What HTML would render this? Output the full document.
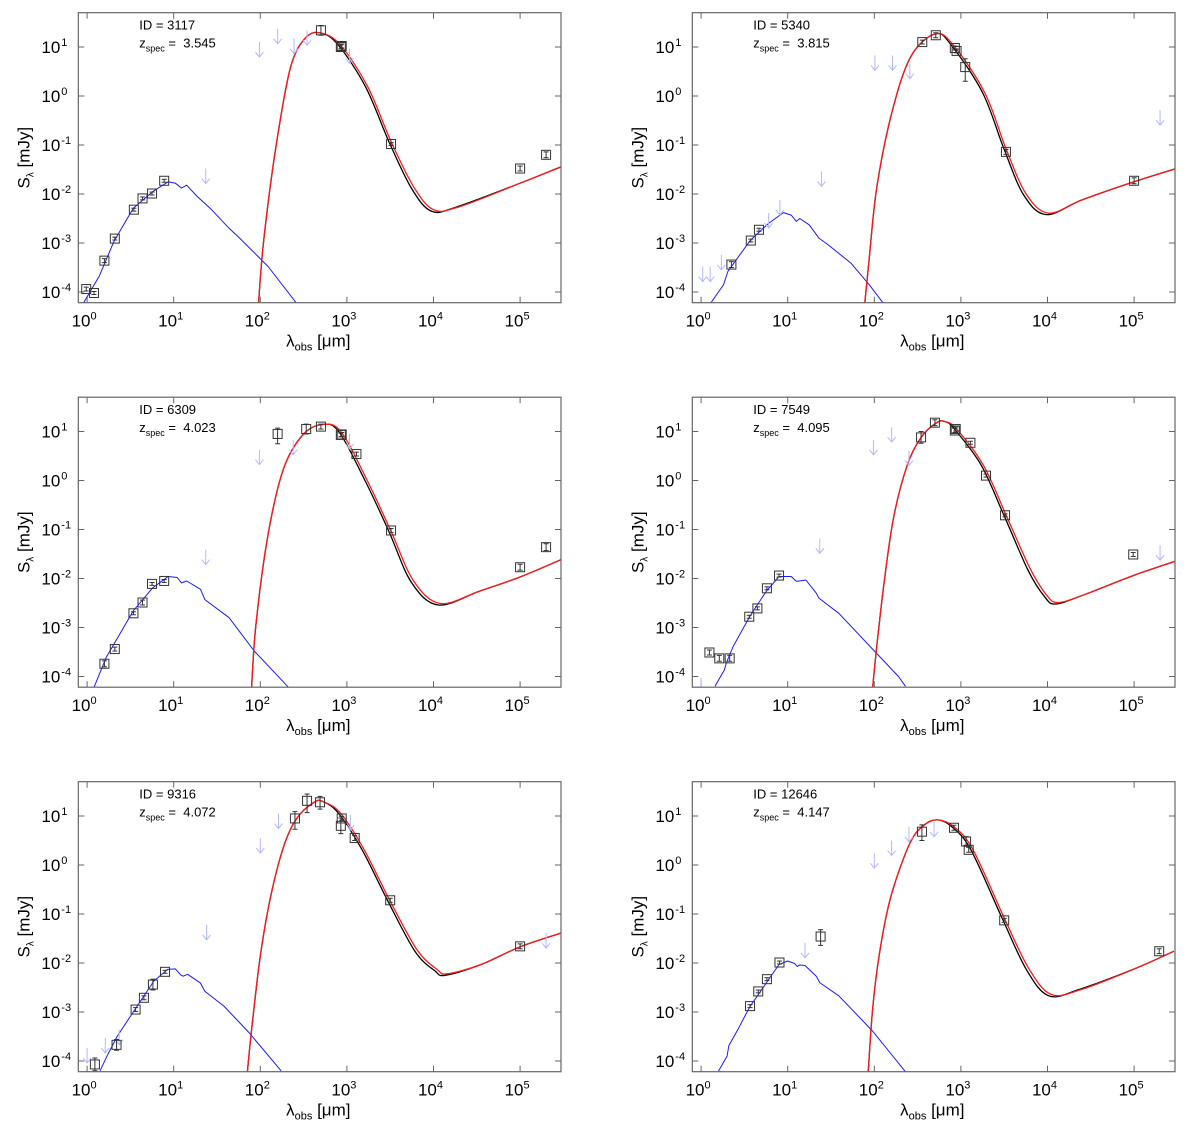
<!DOCTYPE html>
<html><head><meta charset="utf-8"><style>
html,body{margin:0;padding:0;background:#fff;}
svg{display:block;font-family:"Liberation Sans",Arial,sans-serif;}
</style></head><body>
<svg id="fig" width="1200" height="1132" viewBox="0 0 1200 1132" xmlns="http://www.w3.org/2000/svg"></svg>
<script>
// ---- data (log10 lambda [um], log10 S [mJy]) ----
const panelIds = ["3117","5340","6309","7549","9316","12646"];
const panelZ = ["3.545","3.815","4.023","4.095","4.072","4.147"];
const xTickExps = [0,1,2,3,4,5];
const yTickExps = [1,0,-1,-2,-3,-4];

// detections: [logx, logy, errLo, errHi]
const pts1 = [[-0.01,-3.94,0.04,0.04],[0.08,-4.02,0.03,0.03],[0.2,-3.36,0.04,0.04],[0.32,-2.91,0.03,0.03],[0.54,-2.32,0.03,0.03],[0.64,-2.09,0.03,0.03],[0.75,-1.99,0.03,0.03],[0.89,-1.73,0.03,0.03],[2.70,1.34,0.1,0.1],[2.93,1.0,0.04,0.04],[2.94,1.02,0.04,0.04],[3.51,-0.98,0.03,0.03],[5.0,-1.48,0.05,0.05],[5.3,-1.2,0.06,0.06]];
const pts2 = [[0.35,-3.44,0.06,0.06],[0.574,-2.95,0.03,0.03],[0.668,-2.73,0.03,0.03],[2.554,1.10,0.04,0.04],[2.71,1.24,0.05,0.05],[2.93,0.98,0.04,0.04],[2.95,0.92,0.04,0.04],[3.05,0.59,0.29,0.17],[3.52,-1.14,0.05,0.05],[5.0,-1.73,0.06,0.06]];
const pts3 = [[0.2,-3.74,0.06,0.06],[0.32,-3.44,0.04,0.04],[0.535,-2.71,0.03,0.03],[0.64,-2.49,0.05,0.05],[0.75,-2.11,0.03,0.03],[0.89,-2.05,0.03,0.03],[2.2,0.95,0.2,0.12],[2.53,1.05,0.1,0.1],[2.70,1.10,0.05,0.05],[2.93,0.93,0.04,0.04],[2.94,0.94,0.04,0.04],[3.11,0.54,0.04,0.04],[3.51,-1.02,0.04,0.04],[5.0,-1.77,0.06,0.06],[5.3,-1.36,0.07,0.07]];
const pts4 = [[0.096,-3.51,0.05,0.05],[0.21,-3.63,0.06,0.06],[0.33,-3.63,0.06,0.06],[0.556,-2.78,0.03,0.03],[0.65,-2.61,0.03,0.03],[0.76,-2.20,0.03,0.03],[0.9,-1.94,0.03,0.03],[2.54,0.88,0.12,0.12],[2.70,1.18,0.06,0.06],[2.93,1.02,0.04,0.04],[2.94,1.05,0.04,0.04],[3.11,0.77,0.03,0.03],[3.29,0.10,0.03,0.03],[3.51,-0.71,0.03,0.03],[4.99,-1.51,0.04,0.04]];
const pts5 = [[0.09,-4.07,0.13,0.13],[0.34,-3.67,0.11,0.11],[0.56,-2.95,0.04,0.04],[0.656,-2.71,0.04,0.04],[0.76,-2.44,0.11,0.11],[0.9,-2.18,0.03,0.03],[2.40,0.95,0.22,0.14],[2.54,1.31,0.24,0.14],[2.69,1.28,0.14,0.12],[2.94,0.95,0.04,0.04],[2.93,0.80,0.16,0.16],[3.09,0.55,0.05,0.05],[3.50,-0.72,0.04,0.04],[5.0,-1.66,0.05,0.05]];
const pts6 = [[0.565,-2.88,0.03,0.03],[0.66,-2.58,0.03,0.03],[0.76,-2.33,0.03,0.03],[0.905,-1.99,0.03,0.03],[1.38,-1.46,0.18,0.14],[2.55,0.68,0.18,0.14],[2.92,0.76,0.05,0.05],[3.06,0.48,0.1,0.1],[3.09,0.31,0.05,0.05],[3.50,-1.13,0.04,0.04],[5.29,-1.76,0.05,0.05]];

// upper limits: [logx, logy top]
const lim1 = [[1.99,1.10],[2.2,1.37],[2.39,1.17],[2.54,1.34],[3.03,0.97],[1.37,-1.48]];
const lim2 = [[0.018,-3.48],[0.105,-3.48],[0.234,-3.24],[0.78,-2.39],[0.91,-2.12],[1.39,-1.54],[2.007,0.83],[2.21,0.83],[2.41,0.66],[5.30,-0.29]];
const lim3 = [[1.99,0.63],[2.38,0.83],[3.03,0.95],[1.37,-1.41]];
const lim4 = [[0.0,-4.03],[1.37,-1.18],[1.99,0.83],[2.2,1.09],[2.4,0.61],[5.30,-1.32]];
const lim5 = [[0.0,-3.73],[0.21,-3.53],[0.37,-3.36],[1.38,-1.22],[2.0,0.55],[2.21,1.05],[3.04,1.02],[5.30,-1.39]];
const lim6 = [[1.2,-1.59],[2.0,0.24],[2.2,0.50],[2.40,0.78],[2.69,0.88]];

// stellar (blue) model curves
const blue1 = [[-0.04,-4.22],[0.14,-3.68],[0.31,-2.97],[0.534,-2.29],[0.757,-1.95],[0.935,-1.75],[1.02,-1.78],[1.09,-1.88],[1.15,-1.82],[1.27,-2.05],[1.42,-2.29],[1.64,-2.70],[1.75,-2.88],[2.09,-3.48],[2.41,-4.21]];
const blue2 = [[0.113,-4.22],[0.26,-3.85],[0.31,-3.58],[0.57,-2.94],[0.78,-2.60],[0.95,-2.38],[1.04,-2.43],[1.10,-2.56],[1.14,-2.50],[1.25,-2.63],[1.36,-2.90],[1.47,-3.04],[1.73,-3.41],[1.94,-3.85],[2.1,-4.22]];
const blue3 = [[0.08,-4.22],[0.22,-3.61],[0.534,-2.66],[0.757,-2.19],[0.935,-1.96],[1.04,-1.98],[1.09,-2.09],[1.15,-2.05],[1.31,-2.22],[1.36,-2.43],[1.64,-2.80],[1.93,-3.48],[2.32,-4.21]];
const blue4 = [[0.16,-4.2],[0.27,-3.86],[0.29,-3.73],[0.37,-3.39],[0.56,-2.78],[0.75,-2.27],[0.9,-1.96],[1.04,-1.96],[1.1,-2.06],[1.21,-2.03],[1.33,-2.30],[1.36,-2.40],[1.59,-2.71],[1.99,-3.46],[2.28,-4.0],[2.36,-4.2]];
const blue5 = [[0.15,-4.2],[0.23,-3.9],[0.35,-3.49],[0.54,-2.98],[0.77,-2.37],[0.93,-2.13],[1.02,-2.12],[1.08,-2.24],[1.11,-2.27],[1.16,-2.23],[1.31,-2.41],[1.36,-2.58],[1.58,-2.88],[1.87,-3.42],[2.24,-4.2]];
const blue6 = [[0.2,-4.21],[0.30,-3.90],[0.32,-3.69],[0.43,-3.34],[0.56,-2.90],[0.9,-2.03],[1.0,-1.96],[1.08,-2.01],[1.11,-2.07],[1.14,-2.04],[1.2,-2.05],[1.33,-2.27],[1.37,-2.40],[1.59,-2.67],[1.98,-3.39],[2.36,-4.22]];

// dust + radio (red) model curves
const red1 = [[1.98,-4.21],[2.04,-2.93],[2.18,-1.04],[2.35,0.59],[2.53,1.2],[2.71,1.28],[2.93,1.03],[3.24,0.19],[3.51,-0.93],[3.77,-1.85],[4.0,-2.32],[4.3,-2.26],[5.0,-1.78],[5.48,-1.44]];
const red2 = [[1.89,-4.22],[1.94,-3.34],[2.03,-1.85],[2.2,-0.36],[2.42,0.80],[2.71,1.27],[2.93,1.0],[3.28,0.05],[3.52,-1.07],[3.75,-1.99],[4.01,-2.39],[4.40,-2.12],[5.0,-1.75],[5.47,-1.49]];
const red3 = [[1.9,-4.21],[1.95,-2.93],[2.09,-1.10],[2.27,0.25],[2.49,0.93],[2.71,1.14],[2.93,1.0],[3.24,-0.02],[3.51,-1.04],[3.77,-2.05],[4.08,-2.51],[4.53,-2.26],[5.0,-1.97],[5.48,-1.61]];
const red4 = [[1.98,-4.24],[2.03,-3.36],[2.11,-2.13],[2.22,-0.78],[2.38,0.31],[2.54,0.88],[2.72,1.18],[2.82,1.2],[2.95,1.05],[3.26,0.31],[3.53,-0.74],[3.80,-1.80],[3.99,-2.34],[4.12,-2.49],[4.41,-2.34],[4.99,-1.94],[5.47,-1.65]];
const red5 = [[1.85,-4.24],[1.9,-3.36],[2.0,-1.86],[2.12,-0.64],[2.27,0.38],[2.42,0.95],[2.62,1.28],[2.73,1.29],[2.93,1.05],[3.20,0.31],[3.50,-0.74],[3.81,-1.73],[4.04,-2.13],[4.16,-2.22],[4.55,-2.03],[5.0,-1.67],[5.47,-1.39]];
const red6 = [[1.93,-4.22],[1.98,-2.95],[2.06,-1.80],[2.19,-0.65],[2.41,0.44],[2.58,0.82],[2.73,0.92],[2.92,0.78],[3.14,0.31],[3.50,-1.08],[3.78,-2.10],[4.04,-2.64],[4.39,-2.54],[4.99,-2.13],[5.46,-1.76]];

const allPts = [pts1,pts2,pts3,pts4,pts5,pts6];
const allLim = [lim1,lim2,lim3,lim4,lim5,lim6];
const allBlue = [blue1,blue2,blue3,blue4,blue5,blue6];
const allRed = [red1,red2,red3,red4,red5,red6];

// ---- drawing ----
const NS = "http://www.w3.org/2000/svg";
const svg = document.getElementById("fig");
function mk(tag, attrs, parent){
  const e = document.createElementNS(NS, tag);
  for (const k in attrs) e.setAttribute(k, attrs[k]);
  (parent||svg).appendChild(e);
  return e;
}
const PW = 482.7, PH = 290;
function smoothPath(pp){
  let d = "M" + pp[0][0].toFixed(1) + "," + pp[0][1].toFixed(1);
  for (let i=0;i<pp.length-1;i++){
    const p0 = pp[Math.max(0,i-1)], p1 = pp[i], p2 = pp[i+1], p3 = pp[Math.min(pp.length-1,i+2)];
    const c1x = p1[0]+(p2[0]-p0[0])/6, c1y = p1[1]+(p2[1]-p0[1])/6;
    const c2x = p2[0]-(p3[0]-p1[0])/6, c2y = p2[1]-(p3[1]-p1[1])/6;
    d += " C"+c1x.toFixed(1)+","+c1y.toFixed(1)+" "+c2x.toFixed(1)+","+c2y.toFixed(1)+" "+p2[0].toFixed(1)+","+p2[1].toFixed(1);
  }
  return d;
}
function linePath(pp){
  return "M" + pp.map(q=>q[0].toFixed(1)+","+q[1].toFixed(1)).join(" L");
}

for (let p=0;p<6;p++){
  const col = p%2, row = Math.floor(p/2);
  const X0 = 78.3 + col*614, Y0 = 12.7 + row*384.5;
  const xs = v => X0 + 8.8 + v*86.6;
  const ys = v => Y0 + 34.3 + (1 - v)*49;
  const g = mk("g", {});
  
  

  const cid = "clip"+p;
  const cp = mk("clipPath", {id:cid}, g);
  mk("rect", {x:X0, y:Y0, width:PW, height:PH}, cp);

  const tg = mk("g", {stroke:"#666", "stroke-width":1}, g);
  
  
  xTickExps.forEach(e => {
    const x = xs(e);
    mk("line", {x1:x, y1:Y0+PH, x2:x, y2:Y0+PH-6}, tg);
    mk("line", {x1:x, y1:Y0, x2:x, y2:Y0+6}, tg);
    const t = mk("text", {x:x-3, y:Y0+PH+24, "text-anchor":"middle", "font-size":17, fill:"#000"}, g);
    
    
    t.innerHTML = '10<tspan dy="-7" font-size="11">'+e+'</tspan>';
  });
  yTickExps.forEach(e => {
    const y = ys(e);
    mk("line", {x1:X0, y1:y, x2:X0+6, y2:y}, tg);
    mk("line", {x1:X0+PW, y1:y, x2:X0+PW-6, y2:y}, tg);
    const t = mk("text", {x:X0-18, y:y+6, "text-anchor":"end", "font-size":17, fill:"#000"}, g);
    
    
    t.textContent = "10";
    const s = mk("text", {x:X0-17, y:y-1, "text-anchor":"start", "font-size":11, fill:"#000"}, g);
    
    
    s.textContent = String(e);
  });

  const pg = mk("g", {"clip-path":"url(#"+cid+")"}, g);
  const bl = mk("path", {d:linePath(allBlue[p].map(q=>[xs(q[0]),ys(q[1])])), fill:"none", stroke:"#1a1aff", "stroke-width":1, "stroke-linejoin":"round"}, pg);
  
  
  const blk = allRed[p].map(q=>[xs(q[0] - ((q[0]>2.85 && q[0]<4.4)?0.025:0)), ys(q[1] - ((q[0]>3.6 && q[0]<4.3)?0.03:0))]);
  const bk = mk("path", {d:smoothPath(blk), fill:"none", stroke:"#000", "stroke-width":1.3}, pg);
  
  
  const rd = mk("path", {d:smoothPath(allRed[p].map(q=>[xs(q[0]),ys(q[1])])), fill:"none", stroke:"#ff1a1a", "stroke-width":1.3}, pg);
  
  

  allLim[p].forEach(q => {
    const x = xs(q[0]), y = ys(q[1]);
    const a = mk("path", {d:"M"+x+","+y+" L"+x+","+(y+15)+" M"+(x-4)+","+(y+10)+" L"+x+","+(y+15)+" L"+(x+4)+","+(y+10), fill:"none", stroke:"#b4b8ff", "stroke-width":1}, pg);
    
    
  });
  allPts[p].forEach(q => {
    const x = xs(q[0]), y = ys(q[1]);
    const ylo = ys(q[1]-q[2]), yhi = ys(q[1]+q[3]);
    const dg = mk("g", {stroke:"#333", fill:"none", "stroke-width":1}, pg);
    
    
    mk("rect", {x:x-4.5, y:y-4.5, width:9, height:9}, dg);
    mk("line", {x1:x, y1:yhi, x2:x, y2:ylo}, dg);
    mk("line", {x1:x-2.5, y1:yhi, x2:x+2.5, y2:yhi}, dg);
    mk("line", {x1:x-2.5, y1:ylo, x2:x+2.5, y2:ylo}, dg);
  });

  const fr = mk("rect", {x:X0, y:Y0, width:PW, height:PH, fill:"none", stroke:"#666", "stroke-width":1.2}, g);
  
  

  const t1 = mk("text", {x:X0+61, y:Y0+17, "font-size":13, fill:"#000"}, g);
  
  
  t1.textContent = "ID = " + panelIds[p];
  const t2 = mk("text", {x:X0+61, y:Y0+35, "font-size":13, fill:"#000"}, g);
  
  
  t2.innerHTML = 'z<tspan dy="4" font-size="9">spec</tspan><tspan dy="-4"> =\u00a0 '+panelZ[p]+'</tspan>';

  const xl = mk("text", {x:X0+240, y:Y0+PH+44, "text-anchor":"middle", "font-size":17, fill:"#000"}, g);
  
  
  xl.innerHTML = 'λ<tspan dy="4" font-size="11">obs</tspan><tspan dy="-4"> [μm]</tspan>';
  const yl = mk("text", {transform:"translate("+(X0-49)+","+(Y0+145)+") rotate(-90)", "text-anchor":"middle", "font-size":17, fill:"#000"}, g);
  
  
  yl.innerHTML = 'S<tspan dy="4" font-size="10">λ</tspan><tspan dy="-4"> [mJy]</tspan>';
}
</script>
</body></html>
